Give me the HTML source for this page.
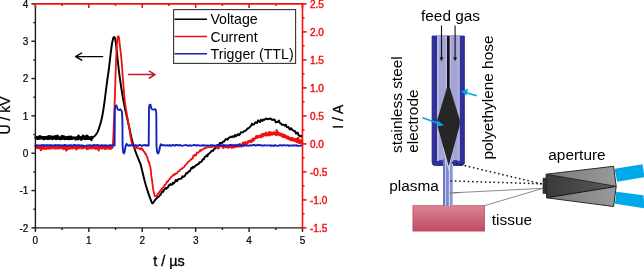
<!DOCTYPE html>
<html><head><meta charset="utf-8"><style>
html,body{margin:0;padding:0;background:#fff;width:644px;height:269px;overflow:hidden}
svg{display:block;will-change:transform}
text{font-family:"Liberation Sans",sans-serif}
</style></head><body>
<svg width="644" height="269" viewBox="0 0 644 269">
<defs>
<linearGradient id="tis" x1="0" y1="0" x2="0" y2="1"><stop offset="0" stop-color="#d98590"/><stop offset="1" stop-color="#c24a63"/></linearGradient>
<linearGradient id="cone" x1="0" y1="0" x2="1" y2="0"><stop offset="0" stop-color="#000" stop-opacity="0.52"/><stop offset="1" stop-color="#000" stop-opacity="0.40"/></linearGradient>
</defs>
<!-- chart -->
<g fill="none" stroke-linejoin="round" stroke-linecap="round">
<polyline points="35.60,137.61 35.90,138.18 36.20,137.63 36.50,137.56 36.80,137.10 37.10,137.64 37.40,138.63 37.70,138.12 38.00,138.58 38.30,137.99 38.60,138.10 38.90,137.94 39.20,136.55 39.50,138.44 39.80,138.18 40.10,138.17 40.40,136.53 40.70,136.49 41.00,137.13 41.30,137.45 41.60,138.03 41.90,137.77 42.20,138.19 42.50,137.32 42.80,138.03 43.10,138.10 43.40,137.30 43.70,139.09 44.00,138.22 44.30,138.70 44.60,137.33 44.90,137.25 45.20,137.54 45.50,137.72 45.80,138.27 46.10,137.99 46.40,137.46 46.70,137.08 47.00,137.41 47.30,138.72 47.60,137.19 47.90,137.98 48.20,138.12 48.50,136.68 48.80,137.84 49.10,138.78 49.40,136.29 49.70,137.56 50.00,137.72 50.30,137.19 50.60,138.17 50.90,137.75 51.20,136.70 51.50,138.42 51.80,138.30 52.10,138.51 52.40,138.88 52.70,138.07 53.00,137.89 53.30,136.83 53.60,138.26 53.90,137.34 54.20,137.46 54.50,136.85 54.80,137.07 55.10,137.40 55.40,138.77 55.70,136.28 56.00,136.71 56.30,137.98 56.60,138.88 56.90,138.23 57.20,136.38 57.50,135.91 57.80,138.07 58.10,137.25 58.40,136.96 58.70,138.53 59.00,138.63 59.30,137.92 59.60,137.98 59.90,138.13 60.20,139.00 60.50,138.26 60.80,138.19 61.10,138.21 61.40,136.62 61.70,138.76 62.00,138.52 62.30,138.20 62.60,136.32 62.90,137.32 63.20,138.43 63.50,136.44 63.80,137.66 64.10,138.56 64.40,136.82 64.70,139.01 65.00,138.21 65.30,137.69 65.60,138.04 65.90,138.29 66.20,137.89 66.50,138.66 66.80,137.30 67.10,137.49 67.40,138.58 67.70,137.82 68.00,137.14 68.30,138.51 68.60,138.90 68.90,137.47 69.20,136.77 69.50,137.70 69.80,137.69 70.10,137.58 70.40,138.85 70.70,137.03 71.00,138.75 71.30,136.85 71.60,137.21 71.90,138.27 72.20,138.65 72.50,138.44 72.80,138.06 73.10,137.91 73.40,137.91 73.70,138.23 74.00,137.67 74.30,138.01 74.60,138.23 74.90,137.80 75.20,138.37 75.50,138.22 75.80,139.31 76.10,138.04 76.40,137.48 76.70,137.52 77.00,137.79 77.30,138.49 77.60,137.55 77.90,138.09 78.20,139.18 78.50,135.88 78.80,136.96 79.10,137.98 79.40,138.10 79.70,137.98 80.00,137.48 80.30,138.29 80.60,138.01 80.90,137.41 81.20,139.62 81.50,138.07 81.80,137.38 82.10,137.73 82.40,137.63 82.70,137.75 83.00,135.75 83.30,137.43 83.60,138.56 83.90,136.92 84.20,137.75 84.50,138.52 84.80,138.44 85.10,138.92 85.40,136.52 85.70,137.53 86.00,137.54 86.30,138.27 86.60,138.62 86.90,135.79 87.20,138.62 87.50,136.71 87.80,138.31 88.10,136.68 88.40,137.93 88.70,138.70 89.00,137.69 89.30,137.94 89.60,138.40 89.90,137.91 90.20,137.73 90.50,138.95 90.80,138.59 91.10,137.58 91.40,139.86 91.70,136.94 92.00,138.49 92.30,137.60" stroke="#000" stroke-width="2.6"/>
<polyline points="92.30,137.60 92.00,137.60 92.27,137.46 92.66,137.28 93.10,137.06 93.57,136.80 94.00,136.50 94.40,136.18 94.80,135.84 95.20,135.45 95.60,135.01 96.00,134.50 96.40,133.94 96.80,133.33 97.20,132.65 97.60,131.88 98.00,131.00 98.41,129.95 98.82,128.76 99.24,127.48 99.63,126.21 100.00,125.00 100.33,123.90 100.64,122.86 100.92,121.82 101.21,120.72 101.50,119.50 101.80,118.17 102.10,116.76 102.40,115.28 102.70,113.69 103.00,112.00 103.30,110.19 103.60,108.28 103.90,106.26 104.20,104.17 104.50,102.00 104.80,99.70 105.11,97.25 105.41,94.75 105.71,92.30 106.00,90.00 106.27,87.90 106.52,85.95 106.76,84.05 107.02,82.10 107.30,80.00 107.62,77.74 107.96,75.39 108.32,72.97 108.67,70.50 109.00,68.00 109.32,65.42 109.62,62.73 109.92,60.03 110.22,57.42 110.50,55.00 110.77,52.74 111.04,50.59 111.30,48.57 111.55,46.70 111.80,45.00 112.05,43.48 112.30,42.12 112.54,40.92 112.77,39.88 113.00,39.00 113.21,38.29 113.41,37.75 113.61,37.37 113.80,37.12 114.00,37.00 114.20,36.98 114.40,37.07 114.60,37.30 114.80,37.71 115.00,38.30 115.20,39.14 115.41,40.20 115.61,41.42 115.81,42.71 116.00,44.00 116.15,45.12 116.28,46.13 116.40,47.27 116.57,48.81 116.80,51.00 117.12,54.08 117.50,57.88 117.93,62.04 118.37,66.20 118.80,70.00 119.23,73.42 119.66,76.71 120.10,79.89 120.55,82.98 121.00,86.00 121.46,88.99 121.93,91.94 122.40,94.78 122.86,97.49 123.30,100.00 123.71,102.22 124.09,104.19 124.46,106.05 124.86,107.94 125.30,110.00 125.81,112.32 126.36,114.80 126.94,117.32 127.49,119.76 128.00,122.00 128.44,123.99 128.85,125.82 129.23,127.54 129.61,129.25 130.00,131.00 130.38,132.78 130.75,134.55 131.13,136.33 131.54,138.14 132.00,140.00 132.52,141.94 133.09,143.93 133.69,145.95 134.33,147.98 135.00,150.00 135.74,152.07 136.54,154.22 137.36,156.32 138.14,158.29 138.80,160.00 139.31,161.24 139.70,162.09 140.04,162.87 140.42,163.90 140.90,165.50 141.52,167.90 142.23,170.87 142.98,174.09 143.72,177.24 144.40,180.00 145.01,182.29 145.57,184.32 146.13,186.22 146.69,188.07 147.30,190.00 147.99,192.11 148.75,194.32 149.51,196.48 150.21,198.43 150.80,200.00 151.24,201.17 151.58,202.05 151.85,202.67 152.11,203.07 152.40,203.30 152.71,203.28 153.02,202.98 153.33,202.52 153.65,201.99 154.00,201.50 154.34,201.07 154.68,200.62 155.04,200.14 155.47,199.61 156.00,199.00 156.67,198.30 157.46,197.53 158.30,196.79 159.17,196.28 160.00,195.13 160.80,194.51 161.60,192.30 162.40,191.38 163.20,191.74 164.00,189.92 164.80,189.03 165.60,187.92 166.40,188.74 167.20,187.66 168.00,187.38 168.80,185.32 169.60,185.33 170.40,184.14 171.20,184.79 172.00,184.75 172.79,182.71 173.57,183.62 174.35,182.72 175.16,181.45 176.00,179.82 176.90,181.29 177.85,179.85 178.82,179.00 179.77,179.04 180.70,178.45 181.59,178.46 182.46,176.28 183.32,176.88 184.17,176.39 185.00,175.67 185.82,173.98 186.62,172.92 187.41,173.25 188.20,171.98 189.00,171.27 189.79,171.36 190.58,169.67 191.37,167.78 192.17,168.25 193.00,166.69 193.87,167.59 194.77,166.59 195.68,165.32 196.56,164.98 197.40,164.80 198.15,163.68 198.84,163.78 199.52,162.30 200.22,162.31 201.00,161.89 201.88,161.26 202.82,159.18 203.80,159.38 204.77,156.97 205.70,156.65 206.59,155.26 207.46,156.17 208.32,153.85 209.17,153.66 210.00,152.68 210.82,151.98 211.62,150.87 212.41,150.62 213.20,150.82 214.00,149.03 214.79,148.57 215.58,148.09 216.36,146.63 217.17,145.26 218.00,144.97 218.88,145.24 219.81,142.90 220.75,142.85 221.66,143.17 222.50,142.48 223.26,141.52 223.95,141.60 224.61,140.85 225.28,139.68 226.00,139.06 226.75,139.18 227.52,139.65 228.30,138.29 229.13,137.65 230.00,137.34 230.94,136.56 231.93,137.15 232.95,136.27 233.98,136.94 235.00,134.98 236.00,136.23 237.00,135.26 238.00,134.05 239.00,135.18 240.00,134.03 241.00,132.24 242.00,132.36 243.00,132.33 244.00,131.11 245.00,131.07 246.00,130.23 247.00,129.32 248.00,128.25 249.00,128.00 250.00,126.80 251.00,125.92 252.00,123.68 253.00,124.79 254.00,124.39 255.00,122.82 256.02,122.16 257.05,123.07 258.07,120.37 259.06,121.27 260.00,122.05 260.86,119.72 261.65,120.42 262.42,120.91 263.19,119.51 264.00,119.74 264.87,119.76 265.77,118.52 266.68,118.87 267.56,119.01 268.40,119.30 269.15,118.80 269.84,118.78 270.51,118.41 271.22,118.97 272.00,119.94 272.88,119.73 273.81,119.48 274.79,119.86 275.80,122.37 276.80,121.88 277.82,122.05 278.87,120.62 279.93,123.09 280.98,123.55 282.00,124.81 283.00,124.59 283.98,124.84 284.94,125.74 285.88,124.80 286.80,127.12 287.68,127.20 288.53,127.08 289.36,128.78 290.18,129.57 291.00,128.16 291.84,129.15 292.68,130.29 293.52,130.80 294.33,131.02 295.10,131.22 295.82,133.58 296.51,133.41 297.17,132.54 297.82,132.92 298.50,135.22 299.25,135.31 300.06,136.37 300.85,136.30 301.52,135.75 302.00,136.76" stroke="#000" stroke-width="1.95"/>
<polyline points="35.60,145.89 35.90,146.88 36.20,146.89 36.50,147.31 36.80,147.85 37.10,147.55 37.40,147.43 37.70,146.82 38.00,147.32 38.30,145.97 38.60,147.42 38.90,148.16 39.20,146.91 39.50,146.67 39.80,147.23 40.10,147.86 40.40,148.23 40.70,146.64 41.00,150.02 41.30,147.25 41.60,147.05 41.90,146.81 42.20,146.53 42.50,146.77 42.80,147.39 43.10,147.46 43.40,148.67 43.70,147.34 44.00,147.25 44.30,147.65 44.60,147.41 44.90,148.61 45.20,147.98 45.50,148.13 45.80,147.20 46.10,147.19 46.40,148.23 46.70,148.62 47.00,147.50 47.30,146.29 47.60,147.11 47.90,147.13 48.20,146.66 48.50,147.34 48.80,148.39 49.10,146.77 49.40,148.46 49.70,147.51 50.00,148.37 50.30,147.13 50.60,146.25 50.90,146.05 51.20,147.53 51.50,147.44 51.80,147.33 52.10,148.17 52.40,147.65 52.70,147.22 53.00,146.14 53.30,147.61 53.60,147.42 53.90,146.89 54.20,147.56 54.50,147.17 54.80,148.35 55.10,147.69 55.40,146.90 55.70,148.29 56.00,147.94 56.30,148.00 56.60,147.80 56.90,147.69 57.20,147.23 57.50,148.16 57.80,146.82 58.10,147.22 58.40,147.33 58.70,147.67 59.00,148.09 59.30,147.37 59.60,147.67 59.90,147.54 60.20,146.80 60.50,148.14 60.80,147.91 61.10,147.83 61.40,147.08 61.70,147.65 62.00,146.47 62.30,148.03 62.60,147.86 62.90,147.83 63.20,146.07 63.50,149.15 63.80,148.04 64.10,147.68 64.40,148.45 64.70,146.87 65.00,148.38 65.30,147.73 65.60,148.14 65.90,147.26 66.20,150.30 66.50,146.68 66.80,146.34 67.10,147.06 67.40,146.29 67.70,147.76 68.00,148.93 68.30,147.88 68.60,147.07 68.90,147.89 69.20,147.33 69.50,148.42 69.80,147.07 70.10,147.66 70.40,148.08 70.70,146.94 71.00,148.17 71.30,147.38 71.60,147.94 71.90,147.75 72.20,147.35 72.50,148.31 72.80,146.78 73.10,147.78 73.40,147.27 73.70,147.61 74.00,147.98 74.30,147.99 74.60,147.52 74.90,147.94 75.20,145.76 75.50,147.98 75.80,147.58 76.10,147.42 76.40,149.27 76.70,147.56 77.00,146.63 77.30,147.26 77.60,147.47 77.90,147.80 78.20,147.90 78.50,146.43 78.80,147.75 79.10,148.02 79.40,147.04 79.70,146.93 80.00,146.69 80.30,146.58 80.60,146.49 80.90,147.26 81.20,147.32 81.50,147.34 81.80,148.37 82.10,147.14 82.40,147.45 82.70,147.92 83.00,147.35 83.30,147.54 83.60,146.93 83.90,147.66 84.20,147.43 84.50,147.58 84.80,147.21 85.10,146.98 85.40,146.93 85.70,147.39 86.00,147.62 86.30,146.94 86.60,146.92 86.90,149.06 87.20,147.52 87.50,148.12 87.80,147.82 88.10,147.96 88.40,147.54 88.70,147.58 89.00,148.56 89.30,146.53 89.60,147.97 89.90,147.14 90.20,147.40 90.50,147.22 90.80,146.96 91.10,148.09 91.40,146.12 91.70,148.10 92.00,146.53 92.30,148.22 92.60,148.33 92.90,147.97 93.20,146.82 93.50,147.60 93.80,147.04 94.10,147.01 94.40,146.85 94.70,147.95 95.00,147.49 95.30,147.64 95.60,146.52 95.90,148.89 96.20,146.81 96.50,145.92 96.80,146.35 97.10,146.68 97.40,147.55 97.70,147.10 98.00,147.60 98.30,146.18 98.60,150.42 98.90,148.01 99.20,146.91 99.50,147.01 99.80,147.46 100.10,147.12 100.40,147.89 100.70,147.66 101.00,147.61 101.30,147.57 101.60,145.56 101.90,148.39 102.20,147.92 102.50,147.98 102.80,146.23 103.10,147.11 103.40,147.25 103.70,147.95 104.00,147.35 104.30,148.15 104.60,147.10 104.90,148.90 105.20,147.39 105.50,147.93 105.80,146.61 106.10,147.86 106.40,148.24 106.70,146.09 107.00,147.73 107.30,147.71 107.60,148.01 107.90,147.11 108.20,147.32 108.50,148.61 108.80,146.60 109.10,146.85 109.40,147.70 109.70,147.77 110.00,148.35 110.30,147.02 110.60,148.84 110.90,147.21 111.20,147.96 111.50,147.82 111.80,147.75 112.10,147.63 112.40,147.28" stroke="#f01010" stroke-width="2.4"/>
<polyline points="112.40,147.28 112.20,147.20 112.31,146.85 112.46,146.48 112.64,145.88 112.83,144.79 113.00,143.00 113.16,140.32 113.32,136.89 113.48,133.01 113.64,128.95 113.80,125.00 113.96,121.21 114.12,117.38 114.28,113.46 114.44,109.35 114.60,105.00 114.76,100.32 114.92,95.36 115.07,90.24 115.23,85.08 115.40,80.00 115.57,74.82 115.75,69.47 115.94,64.21 116.12,59.30 116.30,55.00 116.48,51.35 116.66,48.16 116.85,45.40 117.03,43.02 117.20,41.00 117.36,39.39 117.52,38.21 117.68,37.38 117.84,36.80 118.00,36.40 118.17,36.15 118.35,36.12 118.54,36.33 118.72,36.78 118.90,37.50 119.07,38.47 119.22,39.68 119.38,41.15 119.57,42.92 119.80,45.00 120.09,47.44 120.43,50.22 120.80,53.28 121.16,56.56 121.50,60.00 121.81,63.68 122.10,67.64 122.40,71.76 122.69,75.92 123.00,80.00 123.33,84.14 123.67,88.43 124.02,92.65 124.36,96.58 124.70,100.00 125.02,102.79 125.34,105.10 125.66,107.10 125.98,109.01 126.30,111.00 126.64,113.08 126.98,115.12 127.32,117.12 127.66,119.08 128.00,121.00 128.33,122.88 128.67,124.72 128.99,126.52 129.31,128.28 129.60,130.00 129.87,131.70 130.11,133.39 130.34,135.03 130.57,136.58 130.80,138.00 131.03,139.30 131.26,140.50 131.49,141.60 131.73,142.60 132.00,143.50 132.28,144.29 132.57,144.96 132.88,145.54 133.22,146.38 133.60,146.30 134.00,147.36 134.43,146.91 134.89,147.73 135.40,148.49 136.00,146.78 136.72,147.80 137.56,148.31 138.43,148.19 139.27,148.08 140.00,149.36 140.60,148.68 141.13,148.12 141.61,149.28 142.06,148.48 142.50,149.96 142.94,149.75 143.35,150.64 143.74,151.74 144.12,151.95 144.50,151.94 144.87,152.31 145.24,153.89 145.60,154.14 145.95,154.02 146.30,155.34 146.64,156.04 146.98,157.08 147.32,156.98 147.66,158.84 148.00,160.36 148.37,161.29 148.75,162.35 149.13,162.02 149.49,164.07 149.80,165.20 150.06,166.00 150.29,167.00 150.48,168.00 150.65,169.00 150.80,170.00 150.91,171.00 150.98,172.00 151.04,173.00 151.10,174.00 151.20,175.00 151.34,176.00 151.50,177.00 151.68,178.00 151.85,179.00 152.00,180.00 152.13,181.00 152.25,182.00 152.36,183.00 152.48,184.00 152.60,185.00 152.73,186.02 152.86,187.05 153.00,188.07 153.15,189.06 153.30,190.00 153.47,190.89 153.65,191.76 153.83,192.58 154.02,193.33 154.20,194.00 154.37,194.60 154.54,195.14 154.70,195.61 154.89,195.97 155.10,196.20 155.35,196.28 155.62,196.22 155.91,196.06 156.21,195.84 156.50,195.60 156.79,195.33 157.07,196.15 157.36,194.21 157.67,194.08 158.00,193.82 158.37,193.73 158.76,192.61 159.18,192.78 159.59,191.37 160.00,191.32 160.39,190.48 160.78,190.34 161.16,189.50 161.57,188.61 162.00,189.29 162.47,188.35 162.96,187.33 163.48,187.02 163.99,186.70 164.50,185.16 164.99,184.90 165.48,184.55 165.96,183.89 166.47,182.84 167.00,181.35 167.57,182.13 168.17,180.95 168.79,180.04 169.40,179.16 170.00,178.72 170.57,177.78 171.14,176.92 171.70,176.49 172.25,176.03 172.80,175.52 173.34,174.83 173.86,175.25 174.38,174.00 174.92,174.51 175.50,173.34 176.12,173.51 176.78,173.51 177.46,172.50 178.14,171.58 178.80,171.42 179.45,170.93 180.11,169.52 180.76,169.45 181.39,169.23 182.00,168.39 182.57,168.11 183.11,167.90 183.64,167.40 184.16,166.95 184.70,166.26 185.25,165.30 185.79,164.83 186.35,164.11 186.91,163.48 187.50,162.92 188.11,161.60 188.75,161.60 189.39,161.11 190.05,160.03 190.70,159.79 191.35,159.33 192.00,158.30 192.66,158.56 193.33,155.73 194.00,156.11 194.69,154.70 195.39,155.30 196.09,155.41 196.80,152.47 197.50,153.06 198.19,152.67 198.88,151.76 199.56,151.63 200.27,149.88 201.00,150.78 201.75,150.09 202.52,149.45 203.30,148.72 204.13,148.86 205.00,147.98 205.90,147.98 206.83,147.38 207.81,146.36 208.86,147.15 210.00,147.09 211.38,147.22 212.99,146.41 214.61,146.74 216.02,147.00 217.00,146.77" stroke="#f01010" stroke-width="1.8"/>
<polyline points="217.00,146.77 217.33,147.70 217.73,148.30 218.20,147.41 218.73,147.95 219.31,146.25 219.92,146.18 220.56,145.31 221.22,145.97 221.89,146.23 222.55,146.21 223.21,147.84 223.84,146.74 224.44,146.34 225.00,146.98 225.54,147.06 226.08,146.23 226.62,145.77 227.16,146.08 227.70,147.41 228.23,147.64 228.75,147.07 229.26,146.46 229.76,146.76 230.25,146.69 230.72,146.31 231.17,147.09 231.59,146.94 232.00,147.67 232.38,147.13 232.73,146.32 233.06,145.48 233.36,145.26 233.65,146.46 233.92,146.56 234.19,145.73 234.44,147.31 234.69,146.29 234.94,145.72 235.20,145.49 235.45,146.10 235.72,146.25 236.00,146.08 236.28,146.51 236.56,146.57 236.84,145.22 237.11,144.99 237.39,146.04 237.66,146.35 237.94,146.08 238.22,146.00 238.50,144.78 238.78,146.32 239.08,145.61 239.38,146.30 239.68,145.36 240.00,144.35 240.33,144.90 240.66,145.32 241.01,145.38 241.36,146.50 241.71,145.33 242.07,144.99 242.44,144.86 242.80,142.86 243.17,145.15 243.54,143.97 243.91,143.46 244.28,143.23 244.64,142.46 245.00,144.09 245.35,142.45 245.70,143.96 246.04,143.56 246.38,144.22 246.72,143.07 247.05,142.93 247.39,142.25 247.74,142.78 248.09,141.40 248.45,141.11 248.82,141.19 249.20,141.22 249.59,141.65 250.00,141.01 250.43,141.33 250.89,140.59 251.37,141.98 251.86,140.52 252.37,140.42 252.88,138.62 253.39,140.44 253.91,139.84 254.41,138.64 254.91,138.60 255.39,138.10 255.85,137.27 256.29,136.24 256.70,136.53 257.08,136.15 257.44,137.79 257.79,136.56 258.11,136.83 258.43,136.53 258.73,136.27 259.02,136.67 259.30,136.48 259.58,136.54 259.86,135.80 260.14,136.50 260.42,135.56 260.71,136.27 261.00,137.11 261.29,135.58 261.59,135.45 261.88,135.86 262.16,134.41 262.45,134.09 262.74,136.36 263.02,135.78 263.30,135.25 263.58,134.30 263.87,134.99 264.15,133.97 264.43,135.09 264.71,134.32 265.00,134.11 265.28,135.28 265.57,133.58 265.85,133.22 266.13,134.94 266.41,132.75 266.69,134.70 266.97,133.85 267.26,135.37 267.54,134.47 267.83,134.58 268.12,134.41 268.41,134.59 268.70,133.89 269.00,133.53 269.30,132.15 269.61,135.35 269.93,133.30 270.25,133.97 270.57,132.94 270.90,134.46 271.23,133.35 271.55,132.77 271.87,134.32 272.19,134.47 272.50,134.32 272.81,133.14 273.11,133.09 273.40,133.87 273.68,133.79 273.95,132.39 274.20,133.07 274.45,132.96 274.70,134.35 274.94,134.17 275.17,133.30 275.42,133.31 275.66,133.19 275.91,133.25 276.16,134.34 276.43,134.97 276.71,130.43 277.00,134.14 277.31,134.43 277.63,132.24 277.96,133.27 278.30,133.77 278.65,133.32 279.00,133.20 279.36,134.95 279.72,134.32 280.08,134.61 280.44,134.25 280.79,135.34 281.14,134.00 281.47,133.82 281.80,135.59 282.12,135.31 282.43,136.50 282.74,135.58 283.05,136.82 283.35,136.48 283.65,136.65 283.95,134.75 284.25,136.08 284.54,135.31 284.83,137.04 285.12,135.59 285.42,136.50 285.71,136.86 286.00,135.95 286.29,136.28 286.58,137.26 286.87,138.22 287.16,137.08 287.44,136.88 287.73,138.15 288.01,136.99 288.30,136.88 288.58,139.03 288.86,138.27 289.15,138.82 289.43,139.11 289.71,139.20 290.00,137.85 290.28,138.68 290.57,138.88 290.85,139.54 291.13,140.07 291.41,139.62 291.69,138.19 291.97,140.10 292.25,138.24 292.53,138.88 292.82,138.41 293.11,140.20 293.40,138.88 293.70,140.28 294.00,140.52 294.31,140.49 294.63,140.78 294.95,140.23 295.28,140.23 295.61,139.33 295.95,140.10 296.28,138.91 296.62,141.80 296.95,140.81 297.27,140.91 297.59,141.82 297.91,140.99 298.21,137.90 298.50,141.66 298.79,140.76 299.08,143.05 299.38,140.44 299.67,141.67 299.97,141.08 300.25,142.55 300.53,142.54 300.80,141.52 301.05,140.14 301.28,142.30 301.50,142.11 301.69,143.12 301.86,141.63 302.00,141.55" stroke="#f01010" stroke-width="2.4"/>
<polyline points="35.60,145.64 36.40,145.19 37.20,145.60 38.00,145.46 38.80,145.56 39.60,145.41 40.40,145.70 41.20,145.24 42.00,145.16 42.80,145.03 43.60,145.69 44.40,145.22 45.20,145.14 46.00,145.17 46.80,145.29 47.60,145.08 48.40,145.33 49.20,145.24 50.00,145.26 50.80,145.16 51.60,145.41 52.40,145.28 53.20,145.43 54.00,145.46 54.80,145.49 55.60,144.85 56.40,145.27 57.20,145.20 58.00,145.59 58.80,145.01 59.60,145.22 60.40,145.33 61.20,145.32 62.00,145.65 62.80,145.29 63.60,145.64 64.40,145.03 65.20,144.95 66.00,145.70 66.80,145.51 67.60,145.52 68.40,145.43 69.20,145.52 70.00,145.10 70.80,145.64 71.60,145.27 72.40,145.65 73.20,145.42 74.00,144.91 74.80,145.08 75.60,145.68 76.40,145.37 77.20,145.30 78.00,145.46 78.80,145.29 79.60,145.26 80.40,145.43 81.20,145.44 82.00,145.78 82.80,145.41 83.60,145.87 84.40,145.85 85.20,145.83 86.00,145.67 86.80,145.43 87.60,145.43 88.40,145.36 89.20,145.22 90.00,145.38 90.80,145.24 91.60,145.81 92.40,145.53 93.20,145.29 94.00,144.92 94.80,145.39 95.60,145.30 96.40,145.13 97.20,145.12 98.00,144.84 98.80,145.54 99.60,145.38 100.40,146.05 101.20,145.39 102.00,145.36 102.80,145.76 103.60,145.43 104.40,145.44 105.20,145.31 106.00,145.25 106.80,145.77 107.60,145.65 108.40,145.83 109.20,145.31 110.00,145.41 110.80,145.18 111.60,145.64 112.40,145.05 113.20,145.54 114.00,145.67 114.60,145.40 114.90,108.00 115.50,105.60 116.50,105.40 117.30,108.50 118.30,109.80 119.50,110.10 120.50,109.30 121.40,110.50 122.00,112.00 122.40,120.00 122.60,146.00 123.20,152.30 124.00,153.40 124.80,151.00 125.60,146.00 126.60,143.80 127.80,145.20 128.50,145.75 129.30,145.17 130.10,145.67 130.90,145.22 131.70,145.21 132.50,145.07 133.30,145.69 134.10,145.81 134.90,145.25 135.70,145.21 136.50,145.32 137.30,146.03 138.10,145.65 138.90,145.26 139.70,144.95 140.50,145.23 141.30,145.70 142.10,145.87 142.90,145.33 143.70,145.23 144.50,145.27 145.30,144.93 146.10,145.63 146.90,145.13 147.70,145.67 148.50,144.97 148.70,145.40 149.00,108.00 149.60,105.00 150.50,104.80 151.30,108.40 152.30,109.40 154.00,109.60 155.20,109.20 156.00,110.50 156.30,114.00 156.50,146.00 157.20,152.50 158.30,153.40 159.20,151.00 160.00,146.50 161.00,144.20 162.20,145.30 163.00,145.08 163.80,145.47 164.60,145.21 165.40,145.60 166.20,145.40 167.00,145.11 167.80,145.56 168.60,145.61 169.40,144.92 170.20,145.86 171.00,145.52 171.80,145.59 172.60,144.93 173.40,145.22 174.20,145.31 175.00,145.67 175.80,145.04 176.60,145.18 177.40,144.89 178.20,145.34 179.00,145.49 179.80,144.98 180.60,145.25 181.40,145.53 182.20,145.80 183.00,145.57 183.80,145.32 184.60,145.11 185.40,145.17 186.20,145.23 187.00,145.44 187.80,145.39 188.60,145.82 189.40,145.47 190.20,145.13 191.00,145.79 191.80,145.64 192.60,145.43 193.40,145.22 194.20,144.93 195.00,145.14 195.80,145.63 196.60,145.20 197.40,145.07 198.20,145.45 199.00,145.46 199.80,145.55 200.60,145.56 201.40,145.75 202.20,145.19 203.00,145.64 203.80,145.15 204.60,145.57 205.40,145.44 206.20,145.46 207.00,145.64 207.80,145.40 208.60,145.68 209.40,145.62 210.20,145.43 211.00,145.26 211.80,145.21 212.60,145.27 213.40,145.35 214.20,145.39 215.00,146.15 215.80,145.56 216.60,145.59 217.40,145.18 218.20,145.22 219.00,145.32 219.80,145.45 220.60,145.14 221.40,145.80 222.20,145.26 223.00,145.67 223.80,144.82 224.60,145.40 225.40,145.47 226.20,145.45 227.00,145.55 227.80,145.47 228.60,145.44 229.40,144.93 230.20,145.22 231.00,144.81 231.80,145.56 232.60,145.48 233.40,145.35 234.20,145.19 235.00,145.25 235.80,145.86 236.60,145.83 237.40,145.39 238.20,145.72 239.00,145.00 239.80,144.92 240.60,145.28 241.40,145.18 242.20,145.26 243.00,145.45 243.80,146.16 244.60,145.23 245.40,145.41 246.20,145.47 247.00,145.39 247.80,145.63 248.60,145.84 249.40,145.09 250.20,145.44 251.00,145.33 251.80,145.49 252.60,145.02 253.40,144.96 254.20,144.82 255.00,145.53 255.80,145.45 256.60,145.42 257.40,144.81 258.20,145.31 259.00,145.21 259.80,145.05 260.60,145.17 261.40,145.57 262.20,145.54 263.00,145.39 263.80,145.53 264.60,145.25 265.40,145.42 266.20,145.41 267.00,145.54 267.80,145.38 268.60,145.36 269.40,145.37 270.20,145.24 271.00,145.96 271.80,145.53 272.60,145.51 273.40,145.97 274.20,145.75 275.00,145.01 275.80,145.57 276.60,145.61 277.40,145.87 278.20,145.73 279.00,145.59 279.80,145.11 280.60,145.18 281.40,145.47 282.20,145.53 283.00,145.14 283.80,145.30 284.60,145.30 285.40,145.42 286.20,145.48 287.00,145.33 287.80,145.09 288.60,145.71 289.40,145.80 290.20,145.37 291.00,145.66 291.80,145.51 292.60,145.56 293.40,145.52 294.20,145.21 295.00,145.54 295.80,145.65 296.60,145.18 297.40,145.89 298.20,145.92 299.00,145.86 299.80,145.90 300.60,145.59 301.40,145.32" stroke="#1423c0" stroke-width="1.9"/>
</g>
<g stroke="#1a1a1a" stroke-width="1.4" fill="none">
<line x1="35.4" y1="4" x2="35.4" y2="228.6"/>
<line x1="34.6" y1="227.9" x2="302.5" y2="227.9"/>
<line x1="31.4" y1="227.90" x2="35.4" y2="227.90"/>
<line x1="33.4" y1="209.23" x2="35.4" y2="209.23"/>
<line x1="31.4" y1="190.56" x2="35.4" y2="190.56"/>
<line x1="33.4" y1="171.90" x2="35.4" y2="171.90"/>
<line x1="31.4" y1="153.23" x2="35.4" y2="153.23"/>
<line x1="33.4" y1="134.56" x2="35.4" y2="134.56"/>
<line x1="31.4" y1="115.90" x2="35.4" y2="115.90"/>
<line x1="33.4" y1="97.23" x2="35.4" y2="97.23"/>
<line x1="31.4" y1="78.56" x2="35.4" y2="78.56"/>
<line x1="33.4" y1="59.90" x2="35.4" y2="59.90"/>
<line x1="31.4" y1="41.23" x2="35.4" y2="41.23"/>
<line x1="33.4" y1="22.56" x2="35.4" y2="22.56"/>
<line x1="31.4" y1="3.90" x2="35.4" y2="3.90"/>
<line x1="35.40" y1="227.9" x2="35.40" y2="231.9"/>
<line x1="62.11" y1="227.9" x2="62.11" y2="229.9"/>
<line x1="88.82" y1="227.9" x2="88.82" y2="231.9"/>
<line x1="115.53" y1="227.9" x2="115.53" y2="229.9"/>
<line x1="142.24" y1="227.9" x2="142.24" y2="231.9"/>
<line x1="168.95" y1="227.9" x2="168.95" y2="229.9"/>
<line x1="195.66" y1="227.9" x2="195.66" y2="231.9"/>
<line x1="222.37" y1="227.9" x2="222.37" y2="229.9"/>
<line x1="249.08" y1="227.9" x2="249.08" y2="231.9"/>
<line x1="275.79" y1="227.9" x2="275.79" y2="229.9"/>
<line x1="302.50" y1="227.9" x2="302.50" y2="231.9"/>
</g>
<g stroke="#f01010" stroke-width="1.6" fill="none">
<line x1="35.4" y1="3.9" x2="303.2" y2="3.9"/>
<line x1="302.5" y1="3.2" x2="302.5" y2="228.6"/>
<line x1="302.5" y1="227.90" x2="306.5" y2="227.90"/>
<line x1="302.5" y1="213.90" x2="304.5" y2="213.90"/>
<line x1="302.5" y1="199.90" x2="306.5" y2="199.90"/>
<line x1="302.5" y1="185.90" x2="304.5" y2="185.90"/>
<line x1="302.5" y1="171.90" x2="306.5" y2="171.90"/>
<line x1="302.5" y1="157.90" x2="304.5" y2="157.90"/>
<line x1="302.5" y1="143.90" x2="306.5" y2="143.90"/>
<line x1="302.5" y1="129.90" x2="304.5" y2="129.90"/>
<line x1="302.5" y1="115.90" x2="306.5" y2="115.90"/>
<line x1="302.5" y1="101.90" x2="304.5" y2="101.90"/>
<line x1="302.5" y1="87.90" x2="306.5" y2="87.90"/>
<line x1="302.5" y1="73.90" x2="304.5" y2="73.90"/>
<line x1="302.5" y1="59.90" x2="306.5" y2="59.90"/>
<line x1="302.5" y1="45.90" x2="304.5" y2="45.90"/>
<line x1="302.5" y1="31.90" x2="306.5" y2="31.90"/>
<line x1="302.5" y1="17.90" x2="304.5" y2="17.90"/>
<line x1="302.5" y1="3.90" x2="306.5" y2="3.90"/>
<line x1="35.40" y1="3.9" x2="35.40" y2="7.9"/>
<line x1="62.11" y1="3.9" x2="62.11" y2="5.9"/>
<line x1="88.82" y1="3.9" x2="88.82" y2="7.9"/>
<line x1="115.53" y1="3.9" x2="115.53" y2="5.9"/>
<line x1="142.24" y1="3.9" x2="142.24" y2="7.9"/>
<line x1="168.95" y1="3.9" x2="168.95" y2="5.9"/>
<line x1="195.66" y1="3.9" x2="195.66" y2="7.9"/>
<line x1="222.37" y1="3.9" x2="222.37" y2="5.9"/>
<line x1="249.08" y1="3.9" x2="249.08" y2="7.9"/>
<line x1="275.79" y1="3.9" x2="275.79" y2="5.9"/>
<line x1="302.50" y1="3.9" x2="302.50" y2="7.9"/>
</g>
<g font-size="10" fill="#000" stroke="#000" stroke-width="0.2"><text x="28.3" y="231.50" text-anchor="end">-2</text><text x="28.3" y="194.16" text-anchor="end">-1</text><text x="28.3" y="156.83" text-anchor="end">0</text><text x="28.3" y="119.50" text-anchor="end">1</text><text x="28.3" y="82.16" text-anchor="end">2</text><text x="28.3" y="44.83" text-anchor="end">3</text><text x="28.3" y="7.50" text-anchor="end">4</text><text x="35.40" y="243.6" text-anchor="middle">0</text><text x="88.82" y="243.6" text-anchor="middle">1</text><text x="142.24" y="243.6" text-anchor="middle">2</text><text x="195.66" y="243.6" text-anchor="middle">3</text><text x="249.08" y="243.6" text-anchor="middle">4</text><text x="302.50" y="243.6" text-anchor="middle">5</text></g>
<g font-size="10" fill="#f01010" stroke="#f01010" stroke-width="0.4"><text x="310" y="231.50">-1.5</text><text x="310" y="203.50">-1.0</text><text x="310" y="175.50">-0.5</text><text x="310" y="147.50">0.0</text><text x="310" y="119.50">0.5</text><text x="310" y="91.50">1.0</text><text x="310" y="63.50">1.5</text><text x="310" y="35.50">2.0</text><text x="310" y="7.50">2.5</text></g>
<text x="169" y="265.6" font-size="14.4" text-anchor="middle" stroke="#000" stroke-width="0.35">t / µs</text>
<text transform="translate(10.4,115.4) rotate(-90)" font-size="14" text-anchor="middle" stroke="#000" stroke-width="0.3">U / kV</text>
<text transform="translate(342.8,116.6) rotate(-90)" font-size="14" text-anchor="middle" stroke="#000" stroke-width="0.3">I / A</text>
<!-- arrows -->
<g fill="none" stroke-linecap="round" stroke-linejoin="round">
<path d="M102.7,56.6 H75.6 M81.7,53 L75.6,56.6 L81.7,60.2" stroke="#000" stroke-width="1.4"/>
<path d="M128.6,74.6 H155 M149.4,71.2 L155,74.6 L149.4,78" stroke="#c4162a" stroke-width="1.5"/>
</g>
<!-- legend -->
<rect x="173.6" y="9.6" width="122" height="53.8" fill="#fff" stroke="#333" stroke-width="1.1"/>
<line x1="174.5" y1="19.3" x2="207" y2="19.3" stroke="#000" stroke-width="1.5"/>
<line x1="174.5" y1="36.5" x2="207" y2="36.5" stroke="#f01010" stroke-width="1.5"/>
<line x1="174.5" y1="53.8" x2="207" y2="53.8" stroke="#1423c0" stroke-width="1.5"/>
<g font-size="14.2" fill="#000">
<text x="210.4" y="24.1">Voltage</text>
<text x="210.4" y="41.5">Current</text>
<text x="210.6" y="58.8">Trigger (TTL)</text>
</g>

<!-- diagram -->
<g id="diag">
<!-- gray lines -->
<line x1="449.5" y1="193" x2="543" y2="188.3" stroke="#8a8a8a" stroke-width="1"/>
<line x1="484.8" y1="205.6" x2="543" y2="188.3" stroke="#8a8a8a" stroke-width="1"/>
<!-- tissue -->
<rect x="412.9" y="205.5" width="71.8" height="25.6" fill="url(#tis)" stroke="#c43a60" stroke-width="0.6"/>
<!-- tube -->
<path d="M432.1,36 H464.4 V162.5 Q464.4,165.5 461.4,165.5 H435.1 Q432.1,165.5 432.1,162.5 Z" fill="#32309a" stroke="#201e80" stroke-width="0.8"/>
<rect x="437" y="36" width="22.6" height="124.2" fill="#a4a4d4"/>
<rect x="437" y="36" width="2" height="125" fill="#b8b8e0"/>
<rect x="457.8" y="36" width="1.8" height="125" fill="#b4b4e0"/>
<rect x="445.6" y="36" width="1.5" height="52" fill="#bcbcec"/>
<rect x="449.5" y="36" width="1.5" height="52" fill="#bcbcec"/>
<!-- plasma channel -->
<rect x="443" y="159" width="10" height="47" fill="#8e97d8"/>
<rect x="443" y="159" width="2" height="47" fill="#6e78c8"/>
<rect x="445" y="159" width="1.3" height="47" fill="#cbcdeb"/>
<rect x="446.3" y="159" width="2.5" height="47" fill="#7a84cc"/>
<rect x="448.8" y="159" width="1.3" height="47" fill="#d4d4f0"/>
<rect x="450.1" y="159" width="2.1" height="47" fill="#8c96d6"/>
<rect x="452.2" y="159" width="0.9" height="47" fill="#bfc0e6"/>
<line x1="449.5" y1="193" x2="460" y2="192.5" stroke="#777" stroke-width="1"/>
<polygon points="442.6,147 454,147 448.6,171" fill="#d2d4f2"/>

<rect x="447" y="36" width="2.6" height="54" fill="#111"/>
<polygon points="447,87.5 449.8,87.5 459.8,120 459.8,125 448.7,166.2 437.2,125 437.2,120" fill="#262626"/>
<!-- feed gas arrows -->
<g stroke="#111" stroke-width="1.1"><line x1="441.5" y1="25.5" x2="441.5" y2="58"/><line x1="455.1" y1="25.5" x2="455.1" y2="58"/></g>
<g fill="#111"><polygon points="439.6,57.3 443.4,57.3 441.5,61.3"/><polygon points="453.2,57.3 457,57.3 455.1,61.3"/></g>
<!-- dotted lines -->
<g stroke="#1a1a1a" stroke-width="1.5" stroke-dasharray="1.6 2.7" fill="none">
<line x1="452" y1="162.6" x2="542" y2="184"/>
<line x1="450.5" y1="180.9" x2="542" y2="183.8"/>
</g>
<!-- cyan arrows -->
<g stroke="#00a8e8" stroke-width="1.6" fill="#00a8e8">
<line x1="422.4" y1="117.8" x2="439" y2="123.6"/>
<polygon points="444,125.2 437.6,120.4 436.4,126.6" stroke="none"/>
<line x1="476.8" y1="95.8" x2="465.5" y2="92.6"/>
<polygon points="461,91.6 468,88.8 466.6,95.6" stroke="none"/>
</g>
<!-- aperture -->
<polygon points="543,178.2 546.2,178.2 546.2,193.5 543,193.5" fill="#333" stroke="#222" stroke-width="0.6"/>
<polygon points="546.3,174.2 613.6,166.3 616.2,186.4 546.7,197.8" fill="url(#cone)" stroke="#2a2a2a" stroke-width="1"/>
<polygon points="546.3,174.2 616.2,186.4 613.6,206.5 546.7,197.8" fill="url(#cone)" stroke="#2a2a2a" stroke-width="1"/>
<polygon points="614.6,168.8 642.5,164.2 644.5,177.2 617.2,181.8" fill="#00aaea"/>
<polygon points="616.3,191.8 643.5,195.2 644.5,208.3 615,203.7" fill="#00aaea"/>
<!-- labels -->
<g font-size="15.4" fill="#000">
<text x="421" y="20.8">feed gas</text>
<text x="389.3" y="190.6">plasma</text>
<text x="491.8" y="225.1">tissue</text>
<text x="548.3" y="159.5">aperture</text>
<text transform="translate(401.8,153) rotate(-90)">stainless steel</text>
<text transform="translate(418,152.8) rotate(-90)">electrode</text>
<text transform="translate(492.8,159.6) rotate(-90)">polyethylene hose</text>
</g>
</g>
</svg>
</body></html>
